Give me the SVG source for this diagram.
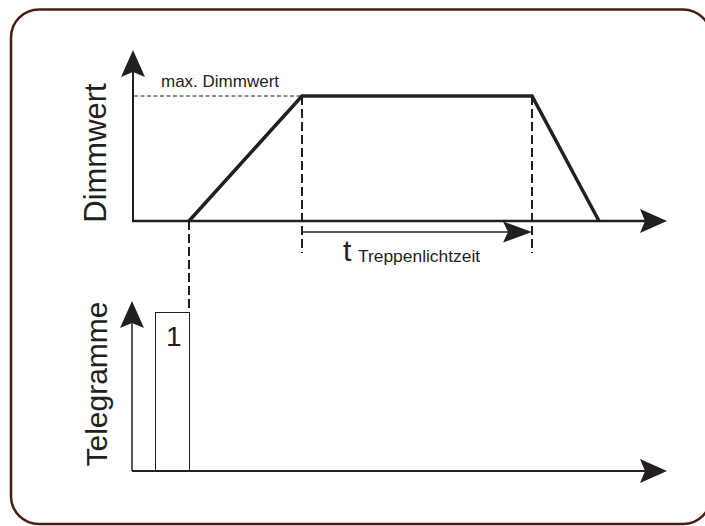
<svg xmlns="http://www.w3.org/2000/svg" width="705" height="526" viewBox="0 0 705 526">
<style>
text{font-family:"Liberation Sans",Arial,sans-serif;fill:#231f20}
.ax{stroke:#231f20;fill:none}
.dash{stroke:#231f20;stroke-width:2;stroke-dasharray:9 4;fill:none}
</style>
<defs>
<marker id="ah" markerUnits="userSpaceOnUse" viewBox="0 0 27 24" refX="5" refY="12" markerWidth="27" markerHeight="24" orient="auto">
<path d="M0,0 L27,12 L0,24 L5,12 Z" fill="#231f20"/>
</marker>
<marker id="ah2" markerUnits="userSpaceOnUse" viewBox="0 0 29 21" refX="5" refY="10.5" markerWidth="29" markerHeight="21" orient="auto">
<path d="M0,0 L29,10.5 L0,21 L5,10.5 Z" fill="#231f20"/>
</marker>
</defs>
<rect id="frame" x="11" y="9.5" width="700" height="514.5" rx="28" fill="#fff" stroke="#4a1c16" stroke-width="2.5"/>
<g id="upper-chart">
<line class="ax" x1="133" y1="221" x2="133" y2="72" stroke-width="2" marker-end="url(#ah)"/>
<line class="ax" x1="132" y1="221" x2="645" y2="221" stroke-width="2.5" marker-end="url(#ah)"/>
<line x1="134" y1="96" x2="302" y2="96" stroke="#231f20" stroke-width="1" stroke-dasharray="4 2.5"/>
<polyline class="ax" points="189,221 302,96 532,96 599,221" stroke-width="3.5"/>
<text x="161" y="87" font-size="17">max. Dimmwert</text>
<text transform="translate(106,153) rotate(-90)" text-anchor="middle" font-size="31">Dimmwert</text>
</g>
<g id="connectors">
<line class="dash" x1="189" y1="221" x2="189" y2="312"/>
<line class="dash" x1="302" y1="96" x2="302" y2="253"/>
<line class="dash" x1="532" y1="96" x2="532" y2="253"/>
<line class="ax" x1="303" y1="232" x2="508" y2="232" stroke-width="1.5" marker-end="url(#ah2)"/>
</g>
<g id="timer-label">
<text x="343" y="261" font-size="30">t</text>
<text x="358" y="262" font-size="17.4">Treppenlichtzeit</text>
</g>
<g id="lower-chart">
<line class="ax" x1="132" y1="471" x2="132" y2="323" stroke-width="1.5" marker-end="url(#ah)"/>
<line class="ax" x1="132" y1="471" x2="645" y2="471" stroke-width="2" marker-end="url(#ah)"/>
<text transform="translate(107,384) rotate(-90)" text-anchor="middle" font-size="30">Telegramme</text>
</g>
<g id="telegram-1">
<rect x="155.5" y="312.5" width="34" height="158.5" fill="none" stroke="#231f20" stroke-width="1"/>
<text x="166" y="345.5" font-size="28">1</text>
</g>
</svg>
